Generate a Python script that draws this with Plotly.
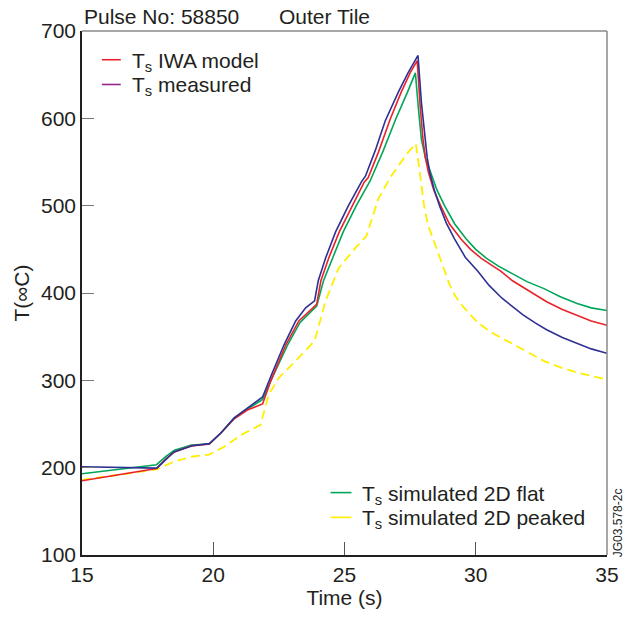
import plotly.graph_objects as go

# ---------------- data ----------------
t_meas = [15, 16, 17, 17.85, 18.5, 19.2, 19.85, 20.3, 20.8, 21.3, 21.88, 22.2, 22.7, 23.14, 23.52, 23.86,
          24.0, 24.28, 24.66, 25.15, 25.64, 25.8, 26.17, 26.55, 27.05, 27.42, 27.8, 27.93, 28.06, 28.15,
          28.25, 28.42, 28.62, 28.88, 29.19, 29.6, 30.08, 30.5, 31.0, 31.4, 31.8, 32.25, 32.7, 33.3,
          33.86, 34.4, 35]
T_meas = [201, 200.5, 200, 199.5, 218, 225, 227.5, 240, 257, 268, 281, 305, 341, 368, 383, 391,
          414, 440, 470, 500, 527, 534, 563, 597, 630, 652, 672, 618, 576, 555,
          538, 518, 500, 480, 462, 441, 425, 409, 394, 384, 375, 366, 358, 349,
          342, 336, 331]

t_iwa = [15, 17.84, 18.2, 18.52, 19.17, 19.85, 20.3, 20.8, 21.3, 21.88, 22.2, 22.77, 23.26, 23.94,
         24.1, 24.4, 24.8, 25.3, 25.75, 25.9, 26.29, 26.74, 27.16, 27.5, 27.77, 27.88, 27.99, 28.08,
         28.2, 28.4, 28.66, 29.0, 29.43, 29.8, 30.2, 30.6, 30.95, 31.4, 31.9, 32.3, 32.7, 33.3,
         33.86, 34.4, 35]
T_iwa = [185, 199, 210, 218, 225, 227, 240, 256, 266, 273, 300, 341, 368, 387,
         414, 440, 470, 500, 527, 532, 561, 599, 630, 652, 666, 615, 576, 555,
         538, 518, 500, 479, 462, 450, 440, 432, 425, 414, 405, 397, 390, 381,
         374, 368, 363]

t_flat = [15, 17.84, 18.2, 18.52, 19.17, 19.85, 20.3, 20.8, 21.3, 21.88, 22.2, 22.84, 23.3, 23.94,
          24.2, 24.55, 24.95, 25.45, 25.9, 25.97, 26.45, 26.95, 27.4, 27.7, 27.82, 27.93, 28.08,
          28.28, 28.52, 28.81, 29.2, 29.63, 30.0, 30.4, 30.85, 31.34, 31.95, 32.6, 33.2, 33.86,
          34.4, 35]
T_flat = [193, 203.4, 213, 220, 226, 227, 240, 257, 267, 278, 300, 341, 366, 385,
          414, 440, 470, 500, 525, 528, 561, 599, 630, 652, 610, 576, 555,
          538, 518, 500, 479, 462, 450, 440, 431, 423, 413, 405, 396, 388,
          383, 380]

t_peak = [15, 17.84, 18.52, 19.17, 19.85, 20.42, 21.06, 21.8, 22.12, 22.5, 23.0, 23.64, 23.86,
          24.28, 24.77, 25.4, 25.83, 26.29, 26.78, 27.42, 27.72, 27.87, 28.03, 28.18, 28.37, 28.58,
          28.81, 29.0, 29.19, 29.5, 29.8, 30.08, 30.4, 30.7, 31.33, 31.95, 32.61, 33.2, 33.86,
          34.4, 35]
T_peak = [186, 198, 207, 212.5, 215, 224, 237.5, 249, 284, 303, 318, 337.5, 345,
          391, 428, 451, 465, 508, 534, 561, 571, 538, 500, 478, 462, 443,
          425, 410, 398, 385, 375, 366, 359, 353, 343, 333, 322, 315, 309,
          305, 301]

x_ticks = [15, 20, 25, 30, 35]
y_ticks = [100, 200, 300, 400, 500, 600, 700]

title_left = "Pulse No: 58850"
title_right = "Outer Tile"
legend_top = [("T<sub>s</sub> IWA model", "#E8232A"), ("T<sub>s</sub> measured", "#93278F")]
legend_bottom = [("T<sub>s</sub> simulated 2D flat", "#00A65A"), ("T<sub>s</sub> simulated 2D peaked", "#FFEE00")]

# ---------------- layout geometry ----------------
W, H = 631, 617
L, R, T, B = 82, 610, 31, 560
FONT = "Liberation Sans, Arial, Helvetica, sans-serif"
TXT = "#231F20"


def px(x):
    return (x - L) / (R - L)


def py(y):
    return (B - y) / (B - T)


fig = go.Figure()
fig.add_trace(go.Scatter(x=t_peak, y=T_peak, mode="lines", showlegend=False,
                         line=dict(color="#FFEE00", width=1.8, dash="9px,5px")))
fig.add_trace(go.Scatter(x=t_flat, y=T_flat, mode="lines", showlegend=False,
                         line=dict(color="#00A65A", width=1.6)))
fig.add_trace(go.Scatter(x=t_iwa, y=T_iwa, mode="lines", showlegend=False,
                         line=dict(color="#E8232A", width=1.6)))
fig.add_trace(go.Scatter(x=t_meas, y=T_meas, mode="lines", showlegend=False,
                         line=dict(color="#2E3192", width=1.6)))

shapes = []
annotations = []

# frame (top / right lighter)
shapes.append(dict(type="line", xref="paper", yref="paper", x0=0, x1=1, y0=1, y1=1,
                   line=dict(color="#8A8A8A", width=1.5)))
shapes.append(dict(type="line", xref="paper", yref="paper", x0=1, x1=1, y0=0, y1=1,
                   line=dict(color="#8A8A8A", width=1.5)))

# legends
for i, (lab, col) in enumerate(legend_top):
    yy = 60 + i * 25
    shapes.append(dict(type="line", xref="paper", yref="paper", x0=px(102), x1=px(121),
                       y0=py(yy), y1=py(yy), line=dict(color=col, width=1.6)))
    annotations.append(dict(text=lab, xref="paper", yref="paper", x=px(130), y=py(yy + 2),
                            xanchor="left", yanchor="middle", showarrow=False,
                            font=dict(size=21, color=TXT, family=FONT)))
for i, (lab, col) in enumerate(legend_bottom):
    yy = 497 + i * 25
    shapes.append(dict(type="line", xref="paper", yref="paper", x0=px(332), x1=px(353),
                       y0=py(yy), y1=py(yy), line=dict(color=col, width=1.6)))
    annotations.append(dict(text=lab, xref="paper", yref="paper", x=px(362), y=py(yy + 2),
                            xanchor="left", yanchor="middle", showarrow=False,
                            font=dict(size=21, color=TXT, family=FONT)))

# title texts
annotations.append(dict(text=title_left, xref="paper", yref="paper", x=px(82), y=py(16),
                        xanchor="left", yanchor="middle", showarrow=False,
                        font=dict(size=21, color=TXT, family=FONT)))
annotations.append(dict(text=title_right, xref="paper", yref="paper", x=px(278), y=py(16),
                        xanchor="left", yanchor="middle", showarrow=False,
                        font=dict(size=21, color=TXT, family=FONT)))
# figure code
annotations.append(dict(text="JG03.578-2c", xref="paper", yref="paper", x=px(621), y=py(527),
                        xanchor="center", yanchor="middle", showarrow=False, textangle=-90,
                        font=dict(size=12, color=TXT, family=FONT)))

fig.update_layout(
    width=W, height=H,
    margin=dict(l=L, r=W - R, t=T, b=H - B, pad=0),
    paper_bgcolor="white", plot_bgcolor="white",
    font=dict(family=FONT, color=TXT, size=20),
    shapes=shapes, annotations=annotations,
    showlegend=False,
)
fig.update_xaxes(range=[15, 35], tickvals=x_ticks, ticktext=[str(v) for v in x_ticks],
                 ticks="inside", ticklen=13, tickwidth=1, tickcolor="#555555",
                 showline=True, linecolor=TXT, linewidth=1.5, showgrid=False, zeroline=False,
                 tickfont=dict(size=21, color=TXT, family=FONT),
                 title=dict(text="Time (s)", font=dict(size=21, color=TXT, family=FONT), standoff=4))
fig.update_yaxes(range=[100, 700], tickvals=y_ticks, ticktext=[str(v) for v in y_ticks],
                 ticks="inside", ticklen=12, tickwidth=1, tickcolor="#777777",
                 showline=True, linecolor=TXT, linewidth=1.5, showgrid=False, zeroline=False,
                 tickfont=dict(size=21, color=TXT, family=FONT),
                 title=dict(text="T(∞C)", font=dict(size=21, color=TXT, family=FONT), standoff=6))

fig.write_html("out.html")
